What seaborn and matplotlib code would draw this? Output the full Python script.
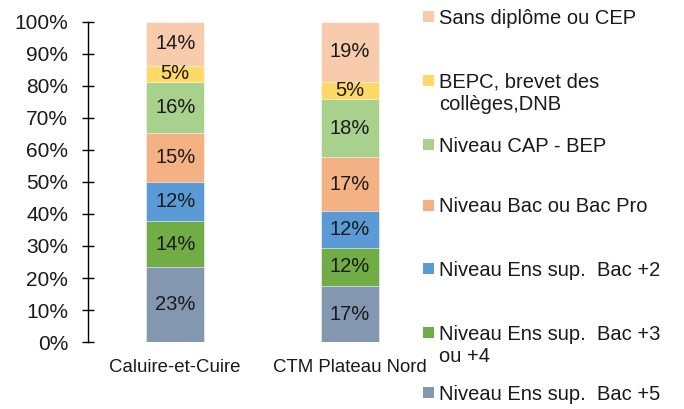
import numpy as np
import pandas as pd
import matplotlib
matplotlib.use("Agg")
import matplotlib.pyplot as plt
import seaborn as sns

sns.set_style("white")
plt.rcParams['font.family'] = ['Liberation Sans', 'DejaVu Sans']

categories = ["Caluire-et-Cuire", "CTM Plateau Nord"]
# bottom to top
levels = [
    "Niveau Ens sup.  Bac +5",
    "Niveau Ens sup.  Bac +3\nou +4",
    "Niveau Ens sup.  Bac +2",
    "Niveau Bac ou Bac Pro",
    "Niveau CAP - BEP",
    "BEPC, brevet des\ncollèges,DNB",
    "Sans diplôme ou CEP",
]
caluire = [23.3, 14.4, 12.4, 15.3, 16.0, 5.0, 13.6]
ctm = [17.4, 12.1, 11.5, 16.7, 18.3, 5.4, 18.6]
colors = ["#8497B0", "#70AD47", "#5B9BD5", "#F4B183", "#A9D18E", "#FFD966", "#F8CBAD"]
yticks = [0, 10, 20, 30, 40, 50, 60, 70, 80, 90, 100]

vals = np.array([caluire, ctm])  # (cat, level)
cum = np.cumsum(vals, axis=1)

fig = plt.figure(figsize=(6.84, 4.09), dpi=100)
ax = fig.add_axes([88/684, 1-342/409, (437-88)/684, (342-22)/409])

# draw from top of stack downwards so lower segments overlay
for j in range(len(levels) - 1, -1, -1):
    df = pd.DataFrame({"cat": categories, "top": cum[:, j]})
    sns.barplot(data=df, x="cat", y="top", color=colors[j], saturation=1,
                width=0.33, ax=ax, edgecolor="white", linewidth=0.4, errorbar=None)

for i in range(len(categories)):
    for j in range(len(levels)):
        bottom = cum[i, j] - vals[i, j]
        ax.text(i, bottom + vals[i, j] / 2, f"{vals[i, j]:.0f}%", ha="center", va="center",
                fontsize=14.5, color="#1a1a1a")

ax.set_xlim(-0.5, 1.5)
ax.set_ylim(0, 100)
ax.set_yticks(yticks)
ax.set_yticklabels([f"{t}%" for t in yticks], fontsize=15, color="#1a1a1a")
ax.tick_params(axis="y", direction="inout", length=8.6, width=1, color="black", pad=10, left=True)
ax.tick_params(axis="x", length=0, pad=12, labelsize=13.4, labelcolor="#1a1a1a")
ax.set_xlabel("")
ax.set_ylabel("")
for s in ["top", "right", "bottom"]:
    ax.spines[s].set_visible(False)
ax.spines["left"].set_color("black")
ax.spines["left"].set_linewidth(1)

# legend (top to bottom = reversed stack order)
centers_px = [16.5, 80.5, 144.5, 205.5, 268.5, 332.5, 392.5]
for k, j in enumerate(range(len(levels) - 1, -1, -1)):
    cy = centers_px[k]
    fig.patches.append(plt.Rectangle((423/684, 1 - (cy + 5.5)/409), 11/684, 11/409,
                                     transform=fig.transFigure, facecolor=colors[j],
                                     edgecolor="none"))
    for ln, line in enumerate(levels[j].split("\n")):
        fig.text(439/684, 1 - (cy + 7 + ln*23)/409, line, fontsize=14.5,
                 va="baseline", ha="left", color="#1a1a1a")

fig.savefig("out.png", dpi=100)
